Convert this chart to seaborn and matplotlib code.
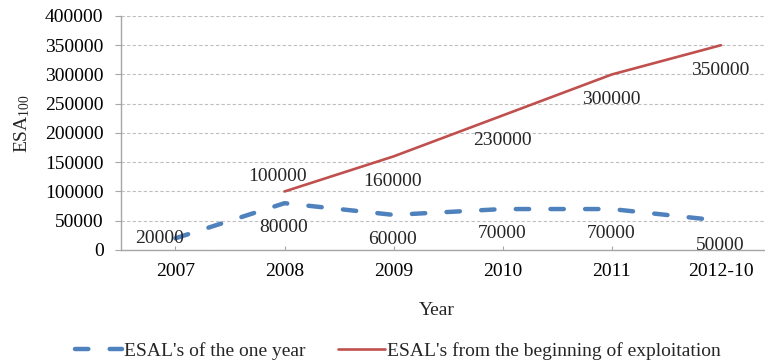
import numpy as np
import pandas as pd
import matplotlib
matplotlib.use("Agg")
import matplotlib.pyplot as plt
import seaborn as sns
from matplotlib.ticker import FuncFormatter, MultipleLocator

# Data
years = ["2007", "2008", "2009", "2010", "2011", "2012-10"]
esal_one_year = [20000, 80000, 60000, 70000, 70000, 50000]
esal_cumulative = [np.nan, 100000, 160000, 230000, 300000, 350000]
series_names = ["ESAL's of the one year", "ESAL's from the beginning of exploitation"]

sns.set_theme(style="white")
plt.rcParams["font.family"] = ["Liberation Serif", "DejaVu Serif"]
plt.rcParams["mathtext.fontset"] = "custom"
plt.rcParams["mathtext.rm"] = "Liberation Serif"
plt.rcParams["mathtext.it"] = "Liberation Serif:italic"

FS = 14
BLUE = "#4F81BD"
RED = "#C0504D"
GREY = "#A6A6A6"

fig = plt.figure(figsize=(7.65, 3.64), dpi=100)
ax = fig.add_axes([0.158, 0.3132, 0.8556, 0.6429])

df = pd.DataFrame({"Year": years, "one": esal_one_year, "cum": esal_cumulative})

sns.lineplot(data=df, x="Year", y="one", ax=ax, color=BLUE, linewidth=3.2,
             linestyle=(0, (3.0, 4.8)), dash_capstyle="round",
             label=series_names[0], sort=False)
sns.lineplot(data=df.dropna(), x="Year", y="cum", ax=ax, color=RED, linewidth=1.9,
             label=series_names[1], sort=False)

ax.set_xlim(-0.5, len(years) - 0.5)
ax.set_ylim(0, 400000)
ax.yaxis.set_major_locator(MultipleLocator(50000))
ax.yaxis.set_major_formatter(FuncFormatter(lambda v, p: f"{int(v)}"))

ax.grid(axis="y", color="#BFBFBF", linestyle=(0, (3, 2)), linewidth=0.8)
ax.set_axisbelow(True)
for side in ["top", "right"]:
    ax.spines[side].set_visible(False)
for side in ["left", "bottom"]:
    ax.spines[side].set_color(GREY)
    ax.spines[side].set_linewidth(1.0)

ax.tick_params(axis="y", direction="out", length=4.5, width=0.8, color=GREY,
               pad=8, labelsize=FS, labelcolor="black", left=True)
ax.tick_params(axis="x", direction="in", length=3, width=0.8, color=GREY,
               pad=9.5, labelsize=FS, labelcolor="black", bottom=True)

ax.set_ylabel(r"ESA$_{\mathregular{100}}$", fontsize=FS)
ax.yaxis.set_label_coords(-0.136, 0.54)
ax.set_xlabel("Year", fontsize=FS)
ax.xaxis.set_label_coords(0.483, -0.222)

# Value labels
for i, v in enumerate(esal_one_year):
    if i == 0:
        off = (-11.5, 0)
    else:
        off = (-0.5, -17.5)
    ax.annotate(f"{v}", (i, v), xytext=off, textcoords="offset points",
                ha="center", va="center", fontsize=FS)
for i, v in enumerate(esal_cumulative):
    if np.isnan(v):
        continue
    if i == 1:
        off = (-5, 10.5)
    else:
        off = (-0.5, -18)
    ax.annotate(f"{int(v)}", (i, v), xytext=off, textcoords="offset points",
                ha="center", va="center", fontsize=FS)

ax.legend_.remove()
handles, labels = ax.get_legend_handles_labels()
fig.legend(handles, labels, loc="center", bbox_to_anchor=(0.52, 0.036),
           ncol=2, frameon=False, fontsize=FS, handlelength=2.45,
           handletextpad=0.1, columnspacing=1.65)

fig.savefig("out.png", dpi=100)
